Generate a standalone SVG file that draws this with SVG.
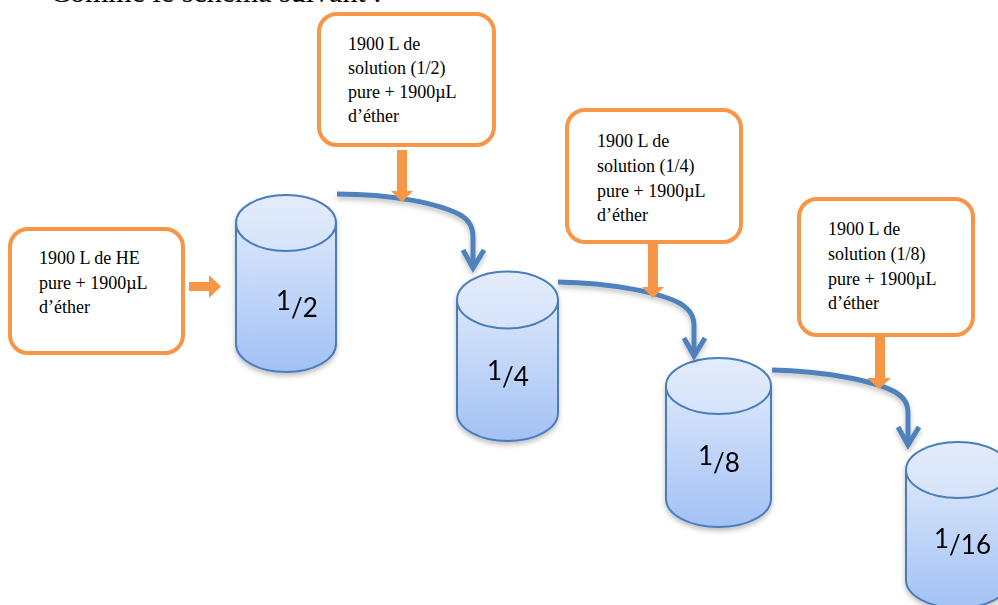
<svg xmlns="http://www.w3.org/2000/svg" width="998" height="605" viewBox="0 0 998 605">
<defs>
<linearGradient id="body" x1="0" y1="0" x2="0" y2="1">
<stop offset="0" stop-color="#dbe7fb"/>
<stop offset="1" stop-color="#a3c1f5"/>
</linearGradient>
<linearGradient id="top" x1="0" y1="0" x2="0" y2="1">
<stop offset="0" stop-color="#e3ecfc"/>
<stop offset="1" stop-color="#d6e3fa"/>
</linearGradient>
<filter id="sh" x="-20%" y="-20%" width="140%" height="150%">
<feDropShadow dx="0" dy="3" stdDeviation="2.5" flood-color="#000" flood-opacity="0.25"/>
</filter>
</defs>
<style>
.box{fill:#fff;stroke:#f79646;stroke-width:4}
.oarr{fill:#f79646}
.cyl{fill:url(#body);stroke:#4a7ebb;stroke-width:2}
.ctop{fill:url(#top);stroke:#4a7ebb;stroke-width:2}
.lbl{font-family:"Liberation Serif","Times New Roman",serif;font-size:18px;fill:#000}
.frac{font-family:Lato,"Open Sans",sans-serif;font-size:26px;fill:#000}
.blue{fill:none;stroke:#4f81bd;stroke-width:5}
</style>
<text x="50" y="2" font-family="Liberation Serif, serif" font-size="30" fill="#000">Comme le schéma suivant :</text>

<g id="box1">
<rect class="box" x="10" y="229" width="173" height="124" rx="18"/>
<text class="lbl"><tspan x="39" y="264">1900 L de HE</tspan><tspan x="39" y="289">pure + 1900µL</tspan><tspan x="39" y="313">d’éther</tspan></text>
</g>
<g id="box2">
<rect class="box" x="319" y="14" width="175" height="131" rx="18"/>
<text class="lbl"><tspan x="348" y="50">1900 L de</tspan><tspan x="348" y="74">solution (1/2)</tspan><tspan x="348" y="98">pure + 1900µL</tspan><tspan x="348" y="122">d’éther</tspan></text>
</g>
<g id="box3">
<rect class="box" x="567" y="110" width="174" height="132" rx="18"/>
<text class="lbl"><tspan x="597" y="147">1900 L de</tspan><tspan x="597" y="172">solution (1/4)</tspan><tspan x="597" y="197">pure + 1900µL</tspan><tspan x="597" y="221">d’éther</tspan></text>
</g>
<g id="box4">
<rect class="box" x="799" y="199" width="174" height="136" rx="18"/>
<text class="lbl"><tspan x="828" y="235">1900 L de</tspan><tspan x="828" y="260">solution (1/8)</tspan><tspan x="828" y="285">pure + 1900µL</tspan><tspan x="828" y="309">d’éther</tspan></text>
</g>

<g id="cyl1" filter="url(#sh)">
<path class="cyl" d="M236,223 L236,344 A50,28 0 0 0 336,344 L336,223 Z"/>
<ellipse class="ctop" cx="286" cy="223" rx="50" ry="28"/>
<text class="frac" x="276" y="310">1<tspan dy="7">/2</tspan></text>
</g>
<g id="cyl2" filter="url(#sh)">
<path class="cyl" d="M457,300 L457,413 A50.5,28 0 0 0 558,413 L558,300 Z"/>
<ellipse class="ctop" cx="507.5" cy="300" rx="50.5" ry="28.5"/>
<text class="frac" x="487" y="380">1<tspan dy="6">/4</tspan></text>
</g>
<g id="cyl3" filter="url(#sh)">
<path class="cyl" d="M666,386 L666,499 A52.5,28 0 0 0 771,499 L771,386 Z"/>
<ellipse class="ctop" cx="718.5" cy="386" rx="52.5" ry="28"/>
<text class="frac" x="698" y="465">1<tspan dy="7">/8</tspan></text>
</g>
<g id="cyl4" filter="url(#sh)">
<path class="cyl" d="M906,470 L906,580 A52,28 0 0 0 1010,580 L1010,470 Z"/>
<ellipse class="ctop" cx="958" cy="470" rx="52" ry="28"/>
<text class="frac" x="934" y="548">1<tspan dy="6">/16</tspan></text>
</g>

<g id="connectors">
<g filter="url(#sh)">
<path class="blue" d="M337,194 C390,194 440,203 462,216 C470,221 473,228 473,237 L473,266"/>
<path class="blue" d="M463,250 L473,268 L484,250"/>
<path class="blue" d="M558,282 C610,283 660,292 681,304 C690,310 694,316 694,326 L694,354"/>
<path class="blue" d="M684,338 L694,356 L705,338"/>
<path class="blue" d="M772,370 C825,371 875,381 895,392 C905,398 908,404 908,414 L908,444"/>
<path class="blue" d="M898,427 L908,445 L919,427"/>
</g>
<polygon class="oarr" points="189,282 209,282 209,275 221,286.5 209,298 209,291 189,291"/>
<polygon class="oarr" points="397,150 407,150 407,191 413,191 402,202 391,191 397,191"/>
<polygon class="oarr" points="648,244 658,244 658,287 664,287 653,298 642,287 648,287"/>
<polygon class="oarr" points="875,337 885,337 885,378 891,378 879,389 867,378 875,378"/>
</g>
</svg>
